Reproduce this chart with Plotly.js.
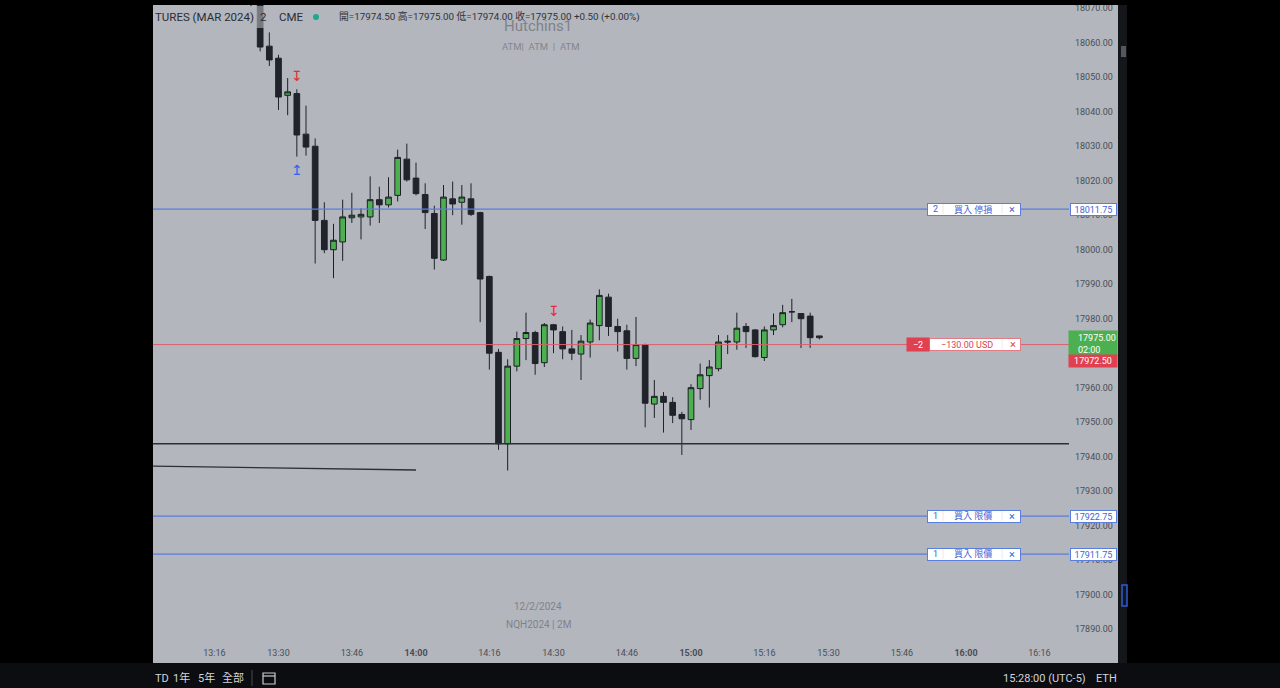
<!DOCTYPE html>
<html><head><meta charset="utf-8">
<script src="https://cdn.plot.ly/plotly-3.0.1.min.js"></script>
<style>html,body{margin:0;padding:0;background:#000;overflow:hidden}#chart{width:1280px;height:688px}</style>
</head><body><div id="chart"></div>
<script>
// ---- data ----
const times = ['13:24','13:26','13:28','13:30','13:32','13:34','13:36','13:38','13:40','13:42','13:44','13:46','13:48','13:50','13:52','13:54','13:56','13:58',
'14:00','14:02','14:04','14:06','14:08','14:10','14:12','14:14','14:16','14:18','14:20','14:22','14:24','14:26','14:28','14:30','14:32','14:34','14:36','14:38','14:40','14:42','14:44','14:46','14:48','14:50','14:52','14:54','14:56','14:58',
'15:00','15:02','15:04','15:06','15:08','15:10','15:12','15:14','15:16','15:18','15:20','15:22','15:24','15:26','15:28'];
const opens  = [18095,18078,18059,18055.5,18044.75,18045.25,18033.5,18030,18008.5,18000,18002.25,18009.25,18009.5,18009.5,18014.5,18013,18015.75,18026.25,
18020.75,18016,18010.5,17997,18014.75,18013.75,18014.75,18010.75,17992.25,17970.25,17943.75,17966.25,17974.25,17976,17967.25,17978.25,17976.25,17971.25,17969.75,17973.25,17978,17986.25,17977.75,17976.5,17968.5,17972.5,17955.25,17957.5,17955.75,17952.25,
17950.75,17959.75,17963.5,17965.5,17973.5,17973.25,17977.75,17976.75,17968.75,17976.75,17978.25,17982,17981.5,17980.75,17974.5];
const highs  = [18100,18079,18063,18056.5,18049.75,18046.5,18041.75,18032.25,18013.75,18007.5,18014.5,18016.5,18012,18021.25,18018.25,18021,18029,18030.75,
18025.25,18019.25,18012.75,18018.75,18019.75,18018.75,18019.25,18011,17992.5,17971.25,17968.25,17976.25,17981.75,17976.5,17978.75,17978.5,17977.75,17976.75,17975.25,17979.75,17988.5,17987.25,17980,17978.25,17980.5,17972.75,17962.25,17958.75,17957.25,17953,
17961,17967,17968,17975.25,17975.25,17981.75,17978.75,17977,17977.75,17981.5,17984,17985.75,17981.5,17981.75,17975];
const lows   = [18070.5,18057.5,18053.25,18040.5,18039,18027,18027.25,17996,17999,17991.75,17996.75,18007.75,18003,18007,18007.75,18012.25,18014,18019.75,
18015.75,18006,17994.25,17996.75,18010,18007.25,18009.75,17979,17965.25,17942,17936,17964.75,17968,17963.75,17966,17970,17968.25,17968,17962.25,17968.75,17973.75,17975,17970.5,17965.25,17966.25,17948.5,17951.25,17947,17949.75,17940.5,
17947.75,17956.5,17954.25,17964.75,17969.75,17971,17971.5,17968.75,17967.75,17975.25,17977.5,17979,17971.5,17971.5,17974];
const closes = [18078,18058.75,18055,18044.25,18045.75,18033.25,18029.75,18008.5,18000,18002.75,18009.5,18010,18010.25,18014.5,18013,18015.25,18026.75,18020.25,
18016.25,18010.75,17997.5,18015.25,18013.25,18015.25,18010.25,17991.5,17970,17943.75,17966.25,17974.25,17976,17967,17978.25,17976.75,17971.25,17970,17973.5,17978.75,17986.75,17977.75,17976.25,17968.5,17972.5,17955.5,17957.5,17955.75,17952,17951,
17960,17963.75,17966,17973.25,17973.25,17977.25,17976.25,17969,17976.75,17978,17981.75,17982,17980,17974.5,17975];

const tickTimes = ['13:16','13:30','13:46','14:00','14:16','14:30','14:46','15:00','15:16','15:30','15:46','16:00','16:16'];
const priceTicks = [17890,17900,17910,17920,17930,17940,17950,17960,17970,17980,17990,18000,18010,18020,18030,18040,18050,18060,18070];

const orderPrices = [18011.75, 17922.75, 17911.75];
const orderQty    = ['2', '1', '1'];
const orderLabels = ['買入 停損', '買入 限價', '買入 限價'];

const positionPrice = 17972.50;
const positionQty   = '\u22122';
const positionPnl   = '\u2212130.00 USD';
const lastPrice     = 17975.00;
const countdown     = '02:00';
const supportPrice  = 17943.75;
const trendTimes    = ['13:02', '14:00'];
const trendPrices   = [17937.3, 17936.15];
const sigTimes      = ['13:34', '13:34', '14:30'];
const sigTypes      = ['down', 'up', 'down'];

const headerSymbol = 'TURES (MAR 2024)';
const headerTf = '2';
const headerEx = 'CME';
const headerVals = '開=17974.50 高=17975.00 低=17974.00 收=17975.00 +0.50 (+0.00%)';

// ---- helpers ----
const toMin = s => { const p = s.split(':').map(Number); return p[0] * 60 + p[1]; };
const L = 153, T = 5, W = 916, H = 636;
const px = x => (x - L) / W;          // pixel -> paper x
const py = y => (T + H - y) / H;      // pixel -> paper y
const xs = times.map(toMin);

const FONT = 'Roboto, "Noto Sans CJK TC", sans-serif';
const BG = '#b3b6bd';
const BLUE = '#5b7de0';
const BLUE_T = '#3e62d4';
const RED = '#e0404f';

const trace = {
  type: 'candlestick', x: xs, open: opens, high: highs, low: lows, close: closes,
  increasing: { fillcolor: '#4caf50', line: { color: '#1c1f25', width: 1 } },
  decreasing: { fillcolor: '#20232a', line: { color: '#20232a', width: 1 } },
  whiskerwidth: 0, hoverinfo: 'skip', showlegend: false
};

const shapes = [];
const annotations = [];

// gray chart area including axes
shapes.push({ type: 'rect', xref: 'paper', yref: 'paper', x0: 0, x1: px(1118), y0: py(663), y1: 1, fillcolor: BG, line: { width: 0 }, layer: 'below' });

// horizontal levels
orderPrices.forEach(p => shapes.push({ type: 'line', xref: 'paper', yref: 'y', x0: 0, x1: 1, y0: p, y1: p, line: { color: BLUE, width: 1.3 }, layer: 'above' }));
shapes.push({ type: 'line', xref: 'paper', yref: 'y', x0: 0, x1: 1, y0: positionPrice, y1: positionPrice, line: { color: '#d8606c', width: 1 }, layer: 'above' });
shapes.push({ type: 'line', xref: 'paper', yref: 'y', x0: 0, x1: 1, y0: supportPrice, y1: supportPrice, line: { color: '#2c2f36', width: 1.3 }, layer: 'above' });
shapes.push({ type: 'line', xref: 'x', yref: 'y', x0: toMin(trendTimes[0]), x1: toMin(trendTimes[1]), y0: trendPrices[0], y1: trendPrices[1], line: { color: '#2c2f36', width: 1.3 }, layer: 'above' });

// legend band (semi-transparent)
shapes.push({ type: 'rect', xref: 'paper', yref: 'paper', x0: 0, x1: px(645), y0: py(28), y1: py(6), fillcolor: 'rgba(179,182,189,0.6)', line: { width: 0 }, layer: 'above' });
// green status dot
shapes.push({ type: 'circle', xref: 'paper', yref: 'paper', x0: px(313), x1: px(319), y0: py(20), y1: py(14), fillcolor: '#1fa88c', line: { width: 0 }, layer: 'above' });

// black frame
const blk = { type: 'rect', xref: 'paper', yref: 'paper', fillcolor: '#000', line: { width: 0 }, layer: 'above' };
shapes.push(Object.assign({}, blk, { x0: px(0), x1: 0, y0: py(700), y1: py(-10) }));
shapes.push(Object.assign({}, blk, { x0: px(1118), x1: px(1290), y0: py(700), y1: py(-10) }));
shapes.push(Object.assign({}, blk, { x0: px(0), x1: px(1290), y0: 1, y1: py(-10) }));
shapes.push(Object.assign({}, blk, { x0: px(0), x1: px(1290), y0: py(700), y1: py(663), fillcolor: '#0c0d10' }));
// right strip details
shapes.push({ type: 'rect', xref: 'paper', yref: 'paper', x0: px(1118), x1: px(1127), y0: py(663), y1: 1, fillcolor: '#15161a', line: { width: 0 }, layer: 'above' });
shapes.push({ type: 'rect', xref: 'paper', yref: 'paper', x0: px(1121), x1: px(1126), y0: py(57), y1: py(46), fillcolor: '#55575e', line: { width: 0 }, layer: 'above' });
shapes.push({ type: 'rect', xref: 'paper', yref: 'paper', x0: px(1122), x1: px(1127), y0: py(606), y1: py(585), fillcolor: 'rgba(0,0,0,0)', line: { color: '#2f5bd8', width: 1.5 }, layer: 'above' });
// bottom toolbar separator and calendar icon
shapes.push({ type: 'line', xref: 'paper', yref: 'paper', x0: px(252), x1: px(252), y0: py(686), y1: py(670), line: { color: '#4a4c52', width: 1 }, layer: 'above' });
shapes.push({ type: 'rect', xref: 'paper', yref: 'paper', x0: px(263), x1: px(275), y0: py(684), y1: py(673), fillcolor: 'rgba(0,0,0,0)', line: { color: '#c9cbd1', width: 1.2 }, layer: 'above' });
shapes.push({ type: 'line', xref: 'paper', yref: 'paper', x0: px(263), x1: px(275), y0: py(676), y1: py(676), line: { color: '#c9cbd1', width: 1.2 }, layer: 'above' });

// ---- annotations ----
const base = { showarrow: false, xanchor: 'center', yanchor: 'middle' };
const ann = (o) => annotations.push(Object.assign({}, base, { xref: 'paper', yref: 'paper', font: { family: FONT, size: 10, color: '#2a2d35' } }, o));
const annY = (o) => annotations.push(Object.assign({}, base, { xref: 'paper', yref: 'y' }, o));

// watermark texts
ann({ x: px(538), y: py(26), text: 'Hutchins1', font: { family: FONT, size: 15, color: '#7f828a' } });
ann({ x: px(540), y: py(46), text: 'ATM|&nbsp;&nbsp;ATM&nbsp;&nbsp;|&nbsp;&nbsp;ATM', font: { family: FONT, size: 9.5, color: '#83868e' } });
ann({ x: px(538), y: py(606), text: '12/2/2024', font: { family: FONT, size: 10, color: '#7f828a' } });
ann({ x: px(538), y: py(624), text: 'NQH2024 | 2M', font: { family: FONT, size: 10, color: '#7f828a' } });

// header
ann({ x: px(153), y: py(17), xanchor: 'left', text: headerSymbol, font: { family: FONT, size: 11.5, color: '#2a2d35' } });
ann({ x: px(263), y: py(17), text: headerTf, font: { family: FONT, size: 11.5, color: '#2a2d35' } });
ann({ x: px(277), y: py(17), xanchor: 'left', text: headerEx, font: { family: FONT, size: 11.5, color: '#2a2d35' } });
ann({ x: px(337), y: py(17), xanchor: 'left', text: headerVals, font: { family: FONT, size: 9.8, color: '#30333a' } });

// signal arrows
sigTimes.forEach((t, i) => {
  const k = times.indexOf(t);
  const up = sigTypes[i] === 'up';
  annotations.push({ showarrow: false, xref: 'x', yref: 'y', x: toMin(t), y: up ? lows[k] : highs[k], xanchor: 'center',
    yanchor: up ? 'top' : 'bottom', yshift: up ? -3 : 3,
    text: up ? '↥' : '↧', font: { family: 'DejaVu Sans', size: 14, color: up ? '#2f62ee' : '#e5283a' } });
});

// order labels
const SEP = { family: FONT, size: 10, color: '#cdd3e6' };
orderPrices.forEach((p, i) => {
  annY({ x: px(974), y: p, text: ' ', width: 92, height: 11, borderpad: 0, bgcolor: '#ffffff', bordercolor: BLUE, borderwidth: 1 });
  annY({ x: px(943), y: p, text: '│', font: SEP });
  annY({ x: px(1002), y: p, text: '│', font: SEP });
  annY({ x: px(935), y: p, text: orderQty[i], font: { family: FONT, size: 9, color: BLUE_T } });
  annY({ x: px(973), y: p, text: orderLabels[i], font: { family: FONT, size: 9, color: BLUE_T } });
  annY({ x: px(1012), y: p, text: '×', font: { family: FONT, size: 11, color: BLUE_T } });
  annY({ x: px(1093.5), y: p, text: p.toFixed(2), width: 45, height: 11, borderpad: 0,
    bgcolor: '#ffffff', bordercolor: BLUE, borderwidth: 1, font: { family: FONT, size: 9, color: BLUE_T } });
});

// position label
annY({ x: px(975), y: positionPrice, text: ' ', width: 90, height: 11, borderpad: 0, bgcolor: '#ffffff', bordercolor: '#e37a84', borderwidth: 1 });
annY({ x: px(1002), y: positionPrice, text: '│', font: { family: FONT, size: 10, color: '#ecd0d4' } });
annY({ x: px(918), y: positionPrice, text: positionQty, width: 22, height: 13, borderpad: 0, bgcolor: RED, font: { family: FONT, size: 9, color: '#ffffff' } });
annY({ x: px(967), y: positionPrice, text: positionPnl, font: { family: FONT, size: 9, color: RED } });
annY({ x: px(1012.5), y: positionPrice, text: '×', font: { family: FONT, size: 11, color: RED } });

// last price & position price on the axis
annY({ x: px(1093), y: lastPrice, yanchor: 'top', yshift: 6, text: ' ', width: 48, height: 24, borderpad: 0, bgcolor: '#4caf50' });
annY({ x: px(1076), y: lastPrice, xanchor: 'left', yanchor: 'top', yshift: 5, align: 'left',
  text: lastPrice.toFixed(2) + '<br>' + countdown, font: { family: FONT, size: 9, color: '#ffffff' } });
annY({ x: px(1093), y: positionPrice, yanchor: 'top', yshift: -9.5, text: positionPrice.toFixed(2),
  width: 48, height: 12, borderpad: 0, bgcolor: RED, font: { family: FONT, size: 9, color: '#ffffff' } });

// bottom toolbar
const tb = { family: FONT, size: 11, color: '#d1d4dc' };
ann({ x: px(153), y: py(678), xanchor: 'left', text: 'TD', font: tb });
ann({ x: px(181), y: py(678), text: '1年', font: tb });
ann({ x: px(206), y: py(678), text: '5年', font: tb });
ann({ x: px(233), y: py(678), text: '全部', font: tb });
ann({ x: px(1088), y: py(678), xanchor: 'right', text: '15:28:00 (UTC-5)', font: tb });
ann({ x: px(1106), y: py(678), text: 'ETH', font: tb });

const layout = {
  width: 1280, height: 688,
  margin: { l: L, r: 1280 - L - W, t: T, b: 688 - T - H },
  paper_bgcolor: '#000000', plot_bgcolor: BG,
  boxgap: 0.38, boxgroupgap: 0,
  showlegend: false, dragmode: false, hovermode: false,
  xaxis: {
    type: 'linear', range: [782.62, 982.47], fixedrange: true,
    showgrid: false, zeroline: false, showline: false, ticks: '',
    rangeslider: { visible: false },
    tickmode: 'array', tickvals: tickTimes.map(toMin),
    ticktext: tickTimes.map(t => t.endsWith(':00') ? '<b>' + t + '</b>' : t),
    tickfont: { family: FONT, size: 9, color: '#4a4d55' }, ticklabelstandoff: 5
  },
  yaxis: {
    side: 'right', range: [17886.58, 18070.93], fixedrange: true,
    showgrid: false, zeroline: false, showline: false, ticks: '',
    tickmode: 'array', tickvals: priceTicks, ticktext: priceTicks.map(v => v.toFixed(2)),
    tickfont: { family: FONT, size: 9, color: '#4a4d55' }, ticklabelstandoff: 5
  },
  shapes: shapes, annotations: annotations
};

Plotly.newPlot('chart', [trace], layout, { staticPlot: true, displayModeBar: false });
</script></body></html>
